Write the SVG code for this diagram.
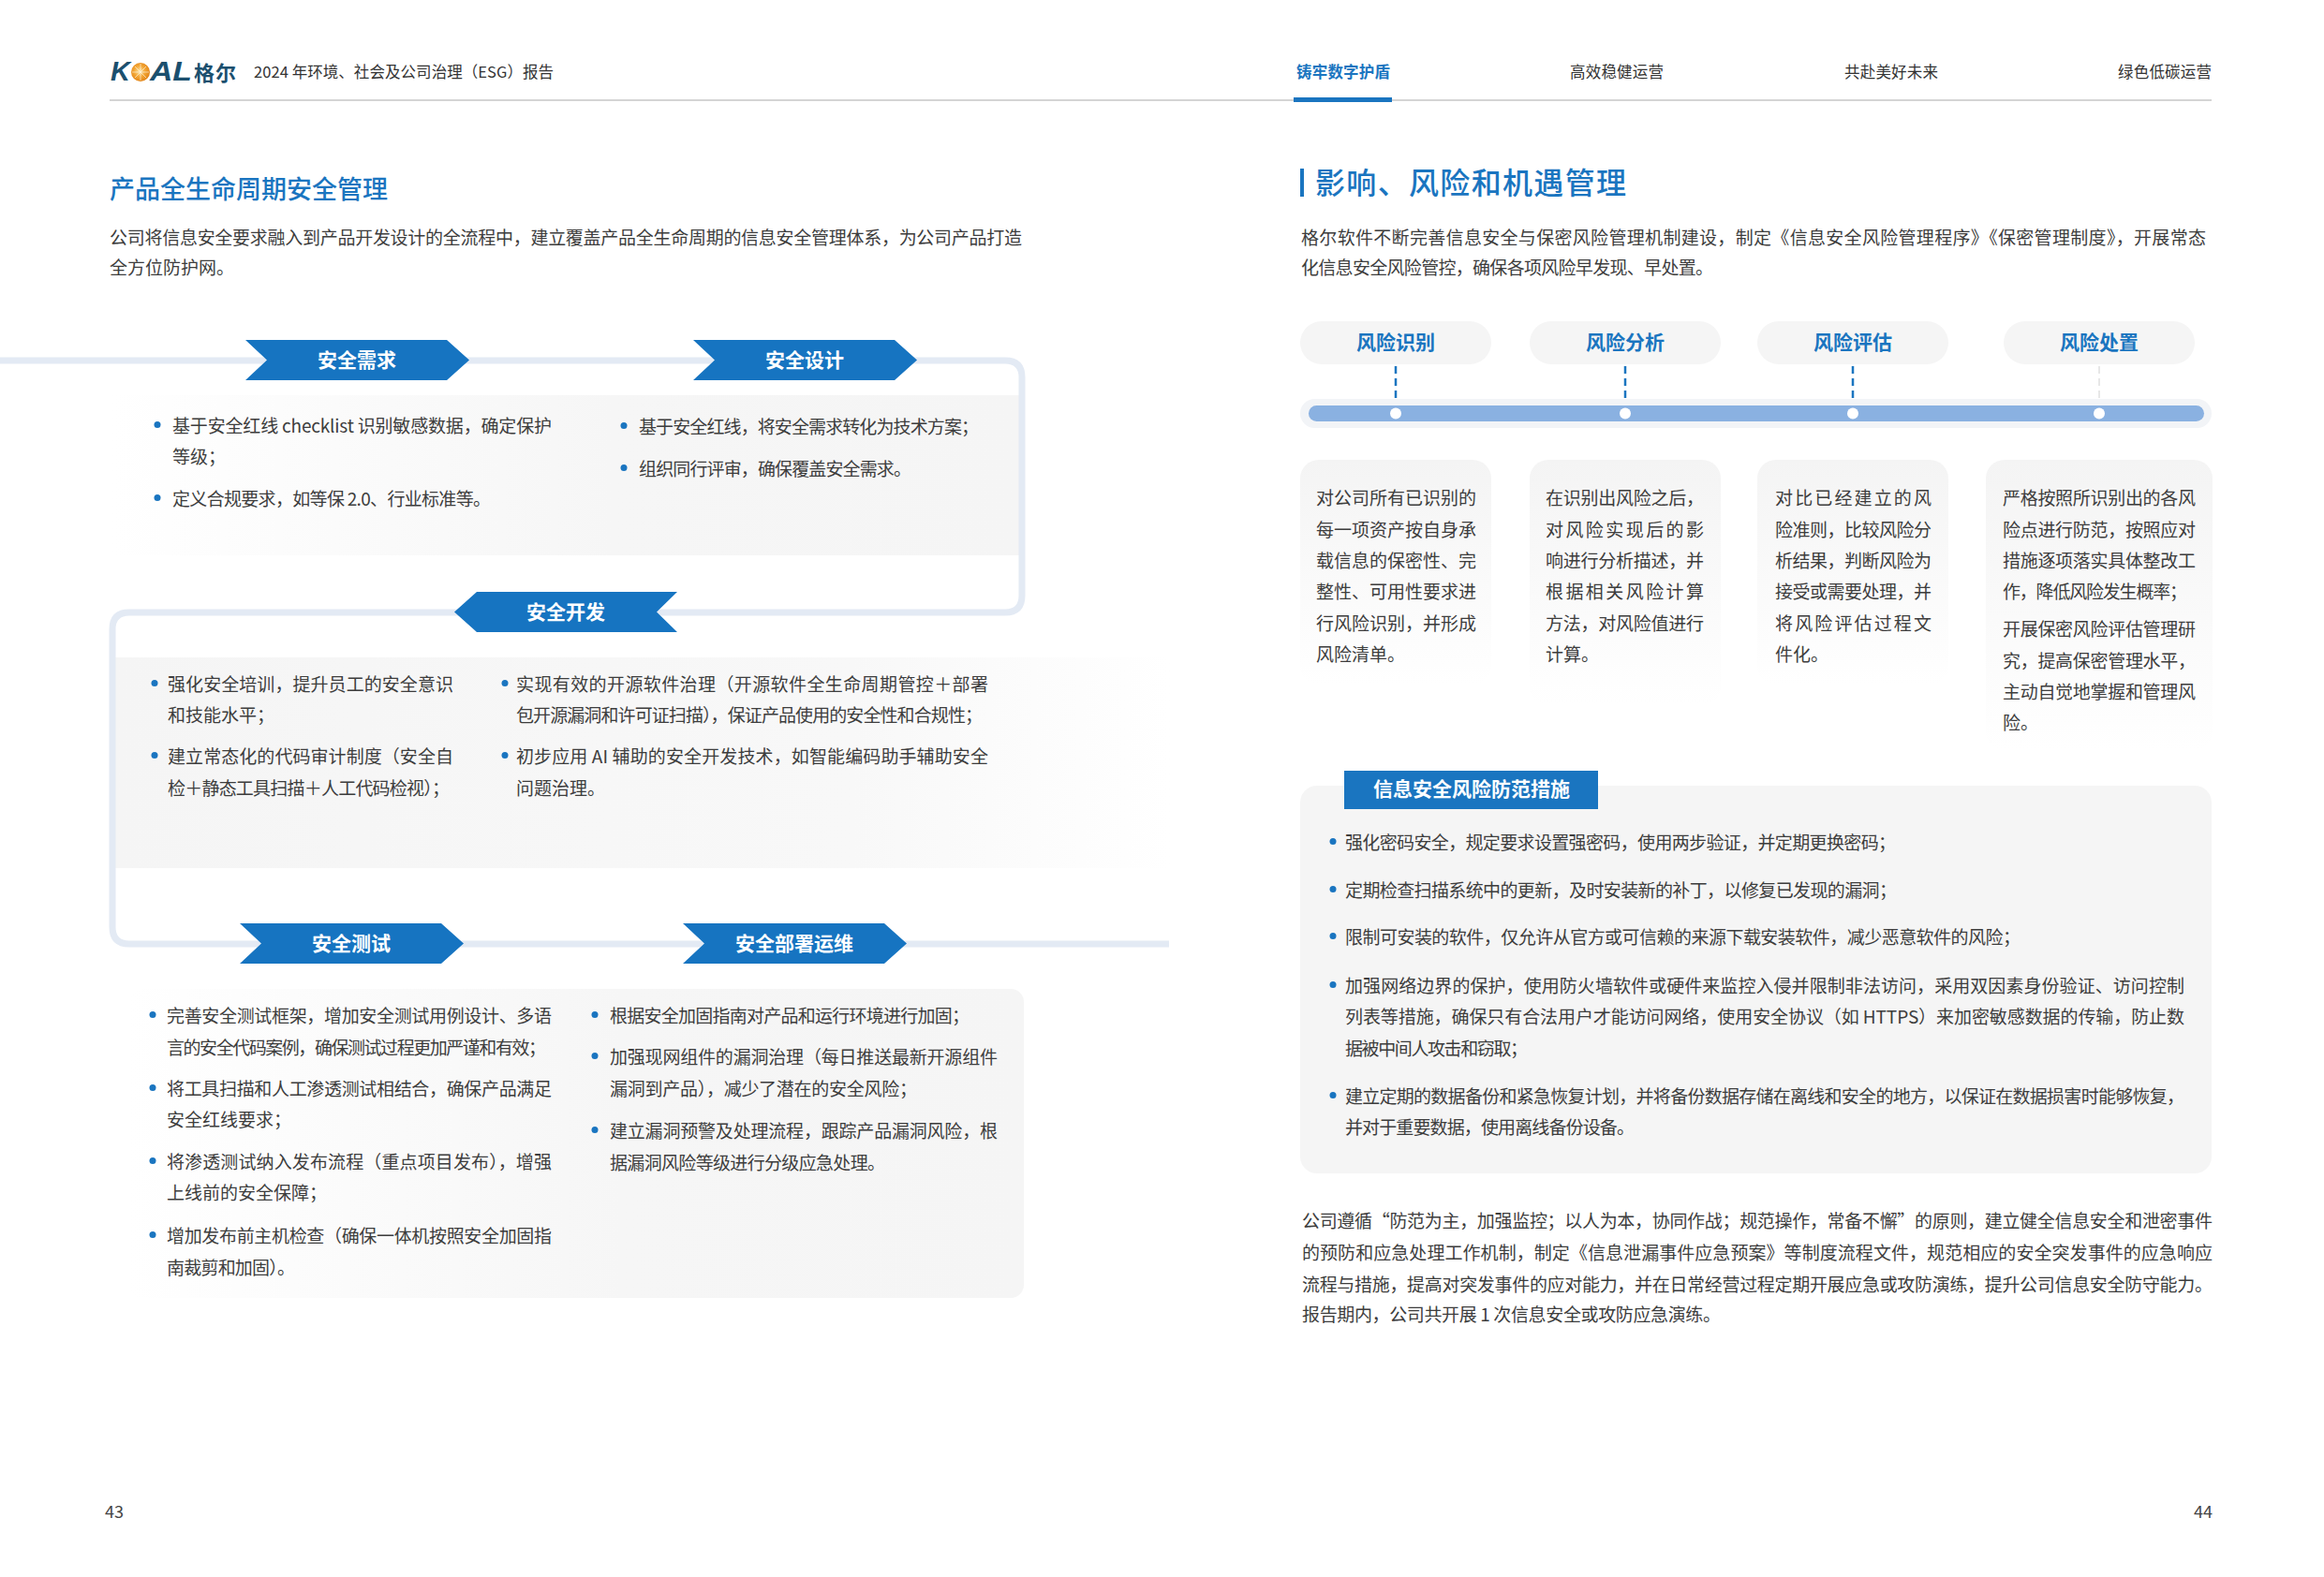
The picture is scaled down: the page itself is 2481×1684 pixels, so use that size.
<svg xmlns="http://www.w3.org/2000/svg" width="2481" height="1684" viewBox="0 0 2481 1684">
<defs>
<style>
text{font-family:"Noto Sans CJK SC","Noto Sans",sans-serif;dominant-baseline:central;transform:translateY(-2.5px)}
.t{font-size:19px;fill:#3d3d3d}
.h{font-size:16.5px;fill:#333}
.nav{font-size:16.5px;fill:#333}
.navA{font-size:16.5px;fill:#1a75c0;font-weight:bold}
.at{font-size:21px;font-weight:bold;fill:#fff;text-anchor:middle}
.pl{font-size:21px;font-weight:bold;fill:#1a75c0;text-anchor:middle}
.arr{fill:#1674c1}
.bl{fill:#1a75c0}
.trk{fill:none;stroke:#e3eaf4;stroke-width:7}
.pg{font-size:18px;fill:#444}
</style>
<linearGradient id="gL2R" x1="0" y1="0" x2="1" y2="0">
<stop offset="0" stop-color="#ffffff"/><stop offset="0.55" stop-color="#f6f6f6"/><stop offset="1" stop-color="#f5f5f5"/>
</linearGradient>
<linearGradient id="gR2L" x1="0" y1="0" x2="1" y2="0">
<stop offset="0" stop-color="#f5f5f5"/><stop offset="0.7" stop-color="#f8f8f8"/><stop offset="1" stop-color="#ffffff"/>
</linearGradient>
<linearGradient id="gCard" x1="0" y1="0" x2="0" y2="1">
<stop offset="0" stop-color="#f4f4f4"/><stop offset="1" stop-color="#ffffff"/>
</linearGradient>
<radialGradient id="gSun" cx="0.45" cy="0.45" r="0.6">
<stop offset="0" stop-color="#fde3a0"/><stop offset="0.5" stop-color="#f3a635"/><stop offset="1" stop-color="#df7f12"/>
</radialGradient>
<path id="arrR" d="M0,0 L215,0 L239,21.5 L215,43 L0,43 L23,21.5 Z"/>
<path id="arrL" d="M24,0 L238,0 L216,21.5 L238,43 L24,43 L0,21.5 Z"/>
</defs>
<rect width="2481" height="1684" fill="#ffffff"/>

<g id="header">
<text x="118" y="78" style="font-family:'Liberation Sans',sans-serif;font-size:29px;font-weight:bold;font-style:italic;fill:#1b4f6e">K</text>
<circle cx="150" cy="77" r="10" fill="url(#gSun)"/>
<g stroke="#fff" stroke-width="0.8" opacity="0.7">
<line x1="150" y1="68" x2="150" y2="86"/><line x1="141" y1="77" x2="159" y2="77"/><line x1="144" y1="71" x2="156" y2="83"/><line x1="156" y1="71" x2="144" y2="83"/>
</g>
<text x="160" y="78" textLength="45" lengthAdjust="spacingAndGlyphs" style="font-family:'Liberation Sans',sans-serif;font-size:29px;font-weight:bold;font-style:italic;fill:#1b4f6e">AL</text>
<text x="207" y="78" textLength="45" style="font-size:22px;font-weight:bold;fill:#1b4f6e">格尔</text>
<text class="h" x="271" y="78" textLength="320">2024 年环境、社会及公司治理（ESG）报告</text>
<text class="navA" x="1384" y="78" textLength="100">铸牢数字护盾</text>
<text class="nav" x="1676" y="78" textLength="100">高效稳健运营</text>
<text class="nav" x="1969" y="78" textLength="100">共赴美好未来</text>
<text class="nav" x="2261" y="78" textLength="100">绿色低碳运营</text>
<rect x="117" y="106" width="2244" height="2" fill="#d4d4d4"/>
<rect x="1381" y="104" width="105" height="5" fill="#1a75c0"/>
</g>

<g id="left-intro">
<text x="117" y="203" style="font-size:27px;font-weight:500;fill:#1a75c0" textLength="297">产品全生命周期安全管理</text>
<text class="t" x="117" y="255" textLength="974">公司将信息安全要求融入到产品开发设计的全流程中，建立覆盖产品全生命周期的信息安全管理体系，为公司产品打造</text>
<text class="t" x="117" y="287">全方位防护网。</text>
</g>

<g id="panels">
<rect id="panel-req-design" x="120" y="422" width="969" height="171" fill="url(#gL2R)"/>
<rect id="panel-dev" x="120" y="702" width="1130" height="225" fill="url(#gR2L)"/>
<rect id="panel-test-ops" x="137" y="1056" width="956" height="330" rx="14" fill="url(#gL2R)"/>
</g>

<g id="connectors">
<path class="trk" d="M0,385 L1073,385 Q1091,385 1091,403 L1091,636 Q1091,654 1073,654 L138,654 Q120,654 120,672 L120,990 Q120,1008 138,1008 L1248,1008"/>
</g>

<g id="node-req">
<use href="#arrR" x="262" y="363" class="arr"/>
<text class="at" x="381" y="385">安全需求</text>
<circle class="bl" cx="168" cy="453.5" r="3.5"/>
<text class="t" x="184" y="456" textLength="405">基于安全红线 checklist 识别敏感数据，确定保护</text>
<text class="t" x="184" y="489">等级；</text>
<circle class="bl" cx="168" cy="531.5" r="3.5"/>
<text class="t" x="184" y="534" textLength="340">定义合规要求，如等保 2.0、行业标准等。</text>
</g>

<g id="node-design">
<use href="#arrR" x="740" y="363" class="arr"/>
<text class="at" x="859" y="385">安全设计</text>
<circle class="bl" cx="666" cy="454.5" r="3.5"/>
<text class="t" x="682" y="457" textLength="363">基于安全红线，将安全需求转化为技术方案；</text>
<circle class="bl" cx="666" cy="499.5" r="3.5"/>
<text class="t" x="682" y="502" textLength="291">组织同行评审，确保覆盖安全需求。</text>
</g>

<g id="node-dev">
<use href="#arrL" x="485" y="632" class="arr"/>
<text class="at" x="604" y="654">安全开发</text>
<circle class="bl" cx="165" cy="729.5" r="3.5"/>
<text class="t" x="179" y="732" textLength="305">强化安全培训，提升员工的安全意识</text>
<text class="t" x="179" y="765">和技能水平；</text>
<circle class="bl" cx="165" cy="806.5" r="3.5"/>
<text class="t" x="179" y="809" textLength="305">建立常态化的代码审计制度（安全自</text>
<text class="t" x="179" y="843" textLength="301">检＋静态工具扫描＋人工代码检视）；</text>
<circle class="bl" cx="539" cy="729.5" r="3.5"/>
<text class="t" x="551" y="732" textLength="504">实现有效的开源软件治理（开源软件全生命周期管控＋部署</text>
<text class="t" x="551" y="765" textLength="498">包开源漏洞和许可证扫描），保证产品使用的安全性和合规性；</text>
<circle class="bl" cx="539" cy="806.5" r="3.5"/>
<text class="t" x="551" y="809" textLength="504">初步应用 AI 辅助的安全开发技术，如智能编码助手辅助安全</text>
<text class="t" x="551" y="843">问题治理。</text>
</g>

<g id="node-test">
<use href="#arrR" x="256" y="986" class="arr"/>
<text class="at" x="375" y="1008">安全测试</text>
<circle class="bl" cx="163" cy="1083.5" r="3.5"/>
<text class="t" x="178" y="1086" textLength="411">完善安全测试框架，增加安全测试用例设计、多语</text>
<text class="t" x="178" y="1120" textLength="405">言的安全代码案例，确保测试过程更加严谨和有效；</text>
<circle class="bl" cx="163" cy="1161.5" r="3.5"/>
<text class="t" x="178" y="1164" textLength="411">将工具扫描和人工渗透测试相结合，确保产品满足</text>
<text class="t" x="178" y="1197">安全红线要求；</text>
<circle class="bl" cx="163" cy="1239.5" r="3.5"/>
<text class="t" x="178" y="1242" textLength="411">将渗透测试纳入发布流程（重点项目发布），增强</text>
<text class="t" x="178" y="1275">上线前的安全保障；</text>
<circle class="bl" cx="163" cy="1318.5" r="3.5"/>
<text class="t" x="178" y="1321" textLength="411">增加发布前主机检查（确保一体机按照安全加固指</text>
<text class="t" x="178" y="1355" textLength="137">南裁剪和加固）。</text>
</g>

<g id="node-ops">
<use href="#arrR" x="729" y="986" class="arr"/>
<text class="at" x="848" y="1008">安全部署运维</text>
<circle class="bl" cx="635" cy="1083.5" r="3.5"/>
<text class="t" x="651" y="1086" textLength="384">根据安全加固指南对产品和运行环境进行加固；</text>
<circle class="bl" cx="635" cy="1127.5" r="3.5"/>
<text class="t" x="651" y="1130" textLength="414">加强现网组件的漏洞治理（每日推送最新开源组件</text>
<text class="t" x="651" y="1164" textLength="328">漏洞到产品），减少了潜在的安全风险；</text>
<circle class="bl" cx="635" cy="1206.5" r="3.5"/>
<text class="t" x="651" y="1209" textLength="414">建立漏洞预警及处理流程，跟踪产品漏洞风险，根</text>
<text class="t" x="651" y="1243" textLength="294">据漏洞风险等级进行分级应急处理。</text>
</g>

<g id="right-intro">
<rect x="1388" y="180" width="4" height="30" fill="#1a75c0"/>
<text x="1404" y="195" textLength="332" style="font-size:32px;font-weight:500;fill:#1a75c0">影响、风险和机遇管理</text>
<text class="t" x="1389" y="255" textLength="966">格尔软件不断完善信息安全与保密风险管理机制建设，制定《信息安全风险管理程序》《保密管理制度》，开展常态</text>
<text class="t" x="1389" y="287" textLength="440">化信息安全风险管控，确保各项风险早发现、早处置。</text>
</g>

<g id="timeline">
<rect x="1388" y="426" width="973" height="31" rx="15.5" fill="#f2f4f7"/>
<rect x="1397" y="433" width="956" height="17" rx="8.5" fill="#8ab1e1"/>
</g>

<g id="risk-connectors">
<g stroke="#1a75c0" stroke-width="2.5" stroke-dasharray="8 5">
<line x1="1490" y1="391" x2="1490" y2="428"/>
<line x1="1735" y1="391" x2="1735" y2="428"/>
<line x1="1978" y1="391" x2="1978" y2="428"/>
</g>
<line x1="2241" y1="391" x2="2241" y2="428" stroke="#e0e0e0" stroke-width="1.5" stroke-dasharray="8 5"/>
</g>

<g id="risk-identify">
<rect x="1388" y="343" width="204" height="46" rx="23" fill="#f5f5f5"/>
<text class="pl" x="1490" y="366">风险识别</text>
<circle cx="1490" cy="441.5" r="6" fill="#fff"/>
<rect x="1388" y="491" width="204" height="240" rx="20" fill="url(#gCard)"/>
<text class="t" x="1405" y="533" textLength="171">对公司所有已识别的</text>
<text class="t" x="1405" y="567" textLength="171">每一项资产按自身承</text>
<text class="t" x="1405" y="600" textLength="171">载信息的保密性、完</text>
<text class="t" x="1405" y="633" textLength="171">整性、可用性要求进</text>
<text class="t" x="1405" y="667" textLength="171">行风险识别，并形成</text>
<text class="t" x="1405" y="700">风险清单。</text>
</g>

<g id="risk-analysis">
<rect x="1633" y="343" width="204" height="46" rx="23" fill="#f5f5f5"/>
<text class="pl" x="1735" y="366">风险分析</text>
<circle cx="1735" cy="441.5" r="6" fill="#fff"/>
<rect x="1633" y="491" width="204" height="262" rx="20" fill="url(#gCard)"/>
<text class="t" x="1650" y="533" textLength="169">在识别出风险之后，</text>
<text class="t" x="1650" y="567" textLength="169">对风险实现后的影</text>
<text class="t" x="1650" y="600" textLength="169">响进行分析描述，并</text>
<text class="t" x="1650" y="633" textLength="169">根据相关风险计算</text>
<text class="t" x="1650" y="667" textLength="169">方法，对风险值进行</text>
<text class="t" x="1650" y="700">计算。</text>
</g>

<g id="risk-assess">
<rect x="1876" y="343" width="204" height="46" rx="23" fill="#f5f5f5"/>
<text class="pl" x="1978" y="366">风险评估</text>
<circle cx="1978" cy="441.5" r="6" fill="#fff"/>
<rect x="1876" y="491" width="204" height="240" rx="20" fill="url(#gCard)"/>
<text class="t" x="1895" y="533" textLength="167">对比已经建立的风</text>
<text class="t" x="1895" y="567" textLength="167">险准则，比较风险分</text>
<text class="t" x="1895" y="600" textLength="167">析结果，判断风险为</text>
<text class="t" x="1895" y="633" textLength="167">接受或需要处理，并</text>
<text class="t" x="1895" y="667" textLength="167">将风险评估过程文</text>
<text class="t" x="1895" y="700">件化。</text>
</g>

<g id="risk-treat">
<rect x="2139" y="343" width="204" height="46" rx="23" fill="#f5f5f5"/>
<text class="pl" x="2241" y="366">风险处置</text>
<circle cx="2241" cy="441.5" r="6" fill="#fff"/>
<rect x="2120" y="491" width="242" height="310" rx="20" fill="url(#gCard)"/>
<text class="t" x="2138" y="533" textLength="206">严格按照所识别出的各风</text>
<text class="t" x="2138" y="567" textLength="206">险点进行防范，按照应对</text>
<text class="t" x="2138" y="600" textLength="206">措施逐项落实具体整改工</text>
<text class="t" x="2138" y="633" textLength="197">作，降低风险发生概率；</text>
<text class="t" x="2138" y="673" textLength="206">开展保密风险评估管理研</text>
<text class="t" x="2138" y="707" textLength="206">究，提高保密管理水平，</text>
<text class="t" x="2138" y="740" textLength="206">主动自觉地掌握和管理风</text>
<text class="t" x="2138" y="773">险。</text>
</g>

<g id="measures">
<rect x="1388" y="839" width="973" height="414" rx="18" fill="#f5f5f5"/>
<rect x="1435" y="823" width="271" height="41" fill="#1a75c0"/>
<text class="at" x="1571" y="843.5">信息安全风险防范措施</text>
<circle class="bl" cx="1423" cy="898.5" r="3.5"/>
<text class="t" x="1436" y="901" textLength="588">强化密码安全，规定要求设置强密码，使用两步验证，并定期更换密码；</text>
<circle class="bl" cx="1423" cy="949.5" r="3.5"/>
<text class="t" x="1436" y="952" textLength="589">定期检查扫描系统中的更新，及时安装新的补丁，以修复已发现的漏洞；</text>
<circle class="bl" cx="1423" cy="999.5" r="3.5"/>
<text class="t" x="1436" y="1002" textLength="721">限制可安装的软件，仅允许从官方或可信赖的来源下载安装软件，减少恶意软件的风险；</text>
<circle class="bl" cx="1423" cy="1051.5" r="3.5"/>
<text class="t" x="1436" y="1054" textLength="896">加强网络边界的保护，使用防火墙软件或硬件来监控入侵并限制非法访问，采用双因素身份验证、访问控制</text>
<text class="t" x="1436" y="1087" textLength="896">列表等措施，确保只有合法用户才能访问网络，使用安全协议（如 HTTPS）来加密敏感数据的传输，防止数</text>
<text class="t" x="1436" y="1121" textLength="195">据被中间人攻击和窃取；</text>
<circle class="bl" cx="1423" cy="1169.5" r="3.5"/>
<text class="t" x="1436" y="1172" textLength="896">建立定期的数据备份和紧急恢复计划，并将备份数据存储在离线和安全的地方，以保证在数据损害时能够恢复，</text>
<text class="t" x="1436" y="1205" textLength="309">并对于重要数据，使用离线备份设备。</text>
</g>

<g id="closing">
<text class="t" x="1390" y="1305" textLength="972">公司遵循“防范为主，加强监控；以人为本，协同作战；规范操作，常备不懈”的原则，建立健全信息安全和泄密事件</text>
<text class="t" x="1390" y="1339" textLength="972">的预防和应急处理工作机制，制定《信息泄漏事件应急预案》等制度流程文件，规范相应的安全突发事件的应急响应</text>
<text class="t" x="1390" y="1373" textLength="972">流程与措施，提高对突发事件的应对能力，并在日常经营过程定期开展应急或攻防演练，提升公司信息安全防守能力。</text>
<text class="t" x="1390" y="1405" textLength="447">报告期内，公司共开展 1 次信息安全或攻防应急演练。</text>
</g>

<g id="footer">
<text class="pg" x="112" y="1615">43</text>
<text class="pg" x="2362" y="1615" text-anchor="end">44</text>
</g>
</svg>
